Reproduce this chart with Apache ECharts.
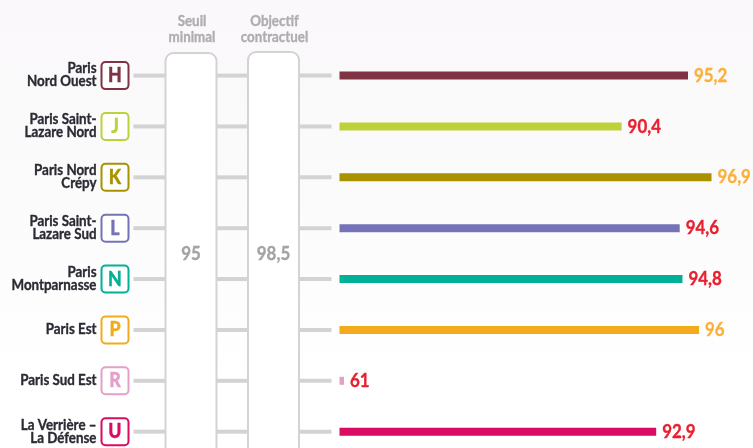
<!DOCTYPE html>
<html><head><meta charset="utf-8">
<style>html,body{margin:0;padding:0;background:#fff}#c{width:753px;height:448px}</style>
<script src="https://cdn.jsdelivr.net/npm/echarts@6/dist/echarts.min.js"></script>
</head><body><div id="c"></div>
<script>
const stations = ["Paris\nNord Ouest","Paris Saint-\nLazare Nord","Paris Nord\nCrépy","Paris Saint-\nLazare Sud","Paris\nMontparnasse","Paris Est","Paris Sud Est","La Verrière –\nLa Défense"];
const letters = ["H","J","K","L","N","P","R","U"];
const values = [95.2,90.4,96.9,94.6,94.8,96,61,92.9];
const lineColors = ["#7f3343","#bdd13a","#a89200","#7573b8","#00b097","#f2ab1c","#e59fc8","#d90b62"];
const seuil = 95;
const objectif = 98.5;
const AXIS_MIN = 70, AXIS_MAX = 99.9;
const ROW_MIN = -1.486, ROW_MAX = 7.321;
const FONT = 'Lato,"Open Sans",sans-serif';
const SX = 0.89;
const fmt = v => String(v).replace('.',',');
const chart = echarts.init(document.getElementById('c'),null,{renderer:'canvas'});

function seg(x1,x2,y){return {type:'rect',shape:{x:x1,y:y-2,width:x2-x1,height:4},style:{fill:'#d3d3d3'}};}
function label(x,y,text,align,font,fill,lh){
  return {type:'text',x:x,y:y,scaleX:SX,style:{x:0,y:0,text:text,align:align,verticalAlign:'middle',font:font,fill:fill,stroke:fill,lineWidth:0.35,lineHeight:lh}};
}

function renderItem(params,api){
  const i = api.value(0), v = api.value(1);
  const start = api.coord([AXIS_MIN,i]);
  const end = api.coord([Math.max(v,AXIS_MIN),i]);
  const y = start[1];
  const xEnd = Math.max(end[0],start[0]+4.5);
  const h = 8;
  const col = lineColors[i];
  return {type:'group',children:[
    seg(133.5,165,y),seg(217,248,y),seg(299,331.5,y),
    label(96.5,y-0.5,stations[i],'right','bold 15px '+FONT,'#2b2a33',13),
    {type:'rect',shape:{x:101.5,y:y-13.5,width:27,height:27,r:4},style:{fill:'#fff',stroke:col,lineWidth:2}},
    label(115,y,letters[i],'center','900 20px '+FONT,col,20),
    {type:'rect',shape:{x:start[0],y:y-h/2,width:xEnd-start[0],height:h},style:{fill:col}},
    label(xEnd+6,y,fmt(v),'left','bold 19px '+FONT,v<seuil?'#e8202e':'#fbb03b',19)
  ]};
}

function panel(x,w,top,value,l1,l2){
  const cx=x+w/2;
  return [
    {type:'rect',z:10,shape:{x:x,y:top,width:w,height:460,r:8},style:{fill:'#fff',stroke:'#d3d3d3',lineWidth:2}},
    {type:'text',z:11,x:cx,y:253.5,scaleX:SX,style:{x:0,y:0,text:value,align:'center',verticalAlign:'middle',font:'bold 19px '+FONT,fill:'#a3a3a3',stroke:'#a3a3a3',lineWidth:0.35}},
    {type:'text',z:11,x:cx+1,y:29,scaleX:SX,style:{x:0,y:0,text:l1+'\n'+l2,align:'center',verticalAlign:'middle',font:'bold 15px '+FONT,lineHeight:16,fill:'#aeaeae',stroke:'#aeaeae',lineWidth:0.35}}
  ];
}

chart.setOption({
  animation:false,
  backgroundColor:new echarts.graphic.LinearGradient(0,0,0,1,[{offset:0,color:'#faf8fa'},{offset:0.35,color:'#fbfafb'},{offset:0.85,color:'#ffffff'},{offset:1,color:'#ffffff'}]),
  grid:{left:339.5,top:0,right:0,bottom:0,containLabel:false},
  xAxis:{type:'value',min:AXIS_MIN,max:AXIS_MAX,show:false},
  yAxis:{type:'value',inverse:true,min:ROW_MIN,max:ROW_MAX,show:false},
  graphic:{elements:[].concat(
    panel(165.5,51,53,fmt(seuil),'Seuil','minimal'),
    panel(248,51,52,fmt(objectif),'Objectif','contractuel')
  )},
  series:[{type:'custom',renderItem:renderItem,clip:false,
    encode:{x:1,y:0},
    data:values.map((v,i)=>[i,v])}]
});
</script></body></html>
